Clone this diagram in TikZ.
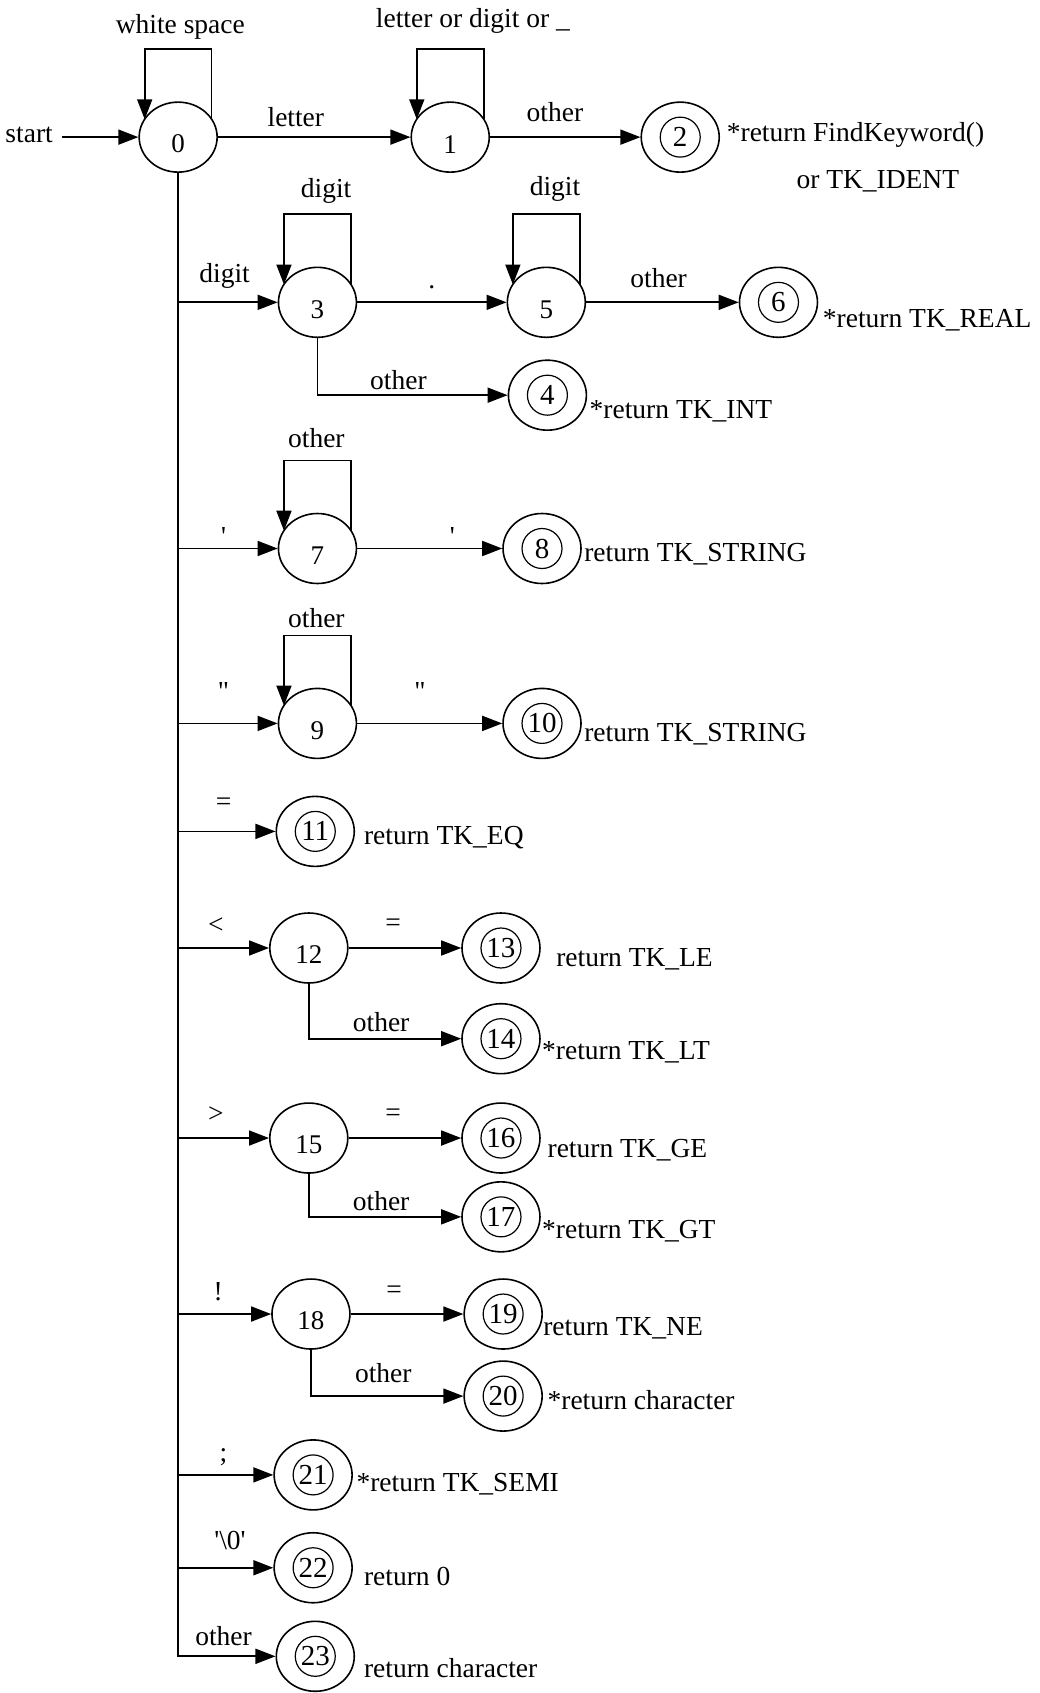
\documentclass[tikz,border=0pt]{standalone}
\usepackage{fontspec}
\setmainfont{Liberation Serif}
\usetikzlibrary{shapes.geometric,arrows.meta,calc}
\newcommand\lblfont{\fontsize{27.5}{32}\selectfont}
\newcommand\stnumfont{\fontsize{27}{30}\selectfont}
\newcommand\accnumfont{\fontsize{29}{30}\selectfont}
\begin{document}
\begin{tikzpicture}[x=1.08pt,y=-1.08pt,
  ln/.style={line width=1.7pt},
  arr/.style={ln,-{Triangle[length=20pt,width=15pt]}},
  st/.style={draw, ellipse, minimum width=78pt, minimum height=70pt, inner sep=0pt, line width=1.6pt},
  stn/.style={st, label={[font=\stnumfont, inner sep=0pt, yshift=-7pt]center:#1}},
  acc/.style={st, label={[draw, circle, minimum size=40pt, inner sep=0pt, line width=1.2pt, font=\accnumfont]center:#1}},
  lbl/.style={font=\lblfont, inner sep=0pt},
  rtn/.style={lbl, anchor=west}]
\useasboundingbox[fill=white] (0,0) rectangle (963,1568);

% states
\node[stn=0] (s0) at (165,127) {};
\node[stn=1] (s1) at (417,127) {};
\node[acc=2] (s2) at (630,127) {};
\node[stn=3] (s3) at (294,280) {};
\node[stn=5] (s5) at (506,280) {};
\node[acc=6] (s6) at (721,280) {};
\node[acc=4] (s4) at (507,366) {};
\node[stn=7] (s7) at (294,508) {};
\node[acc=8] (s8) at (502,508) {};
\node[stn=9] (s9) at (294,670) {};
\node[acc=10] (s10) at (502,670) {};
\node[acc=11] (s11) at (292,770) {};
\node[stn=12] (s12) at (286,878) {};
\node[acc=13] (s13) at (464,878) {};
\node[acc=14] (s14) at (464,962) {};
\node[stn=15] (s15) at (286,1054) {};
\node[acc=16] (s16) at (464,1054) {};
\node[acc=17] (s17) at (464,1127) {};
\node[stn=18] (s18) at (288,1217) {};
\node[acc=19] (s19) at (466,1217) {};
\node[acc=20] (s20) at (466,1293) {};
\node[acc=21] (s21) at (290,1366) {};
\node[acc=22] (s22) at (290,1452) {};
\node[acc=23] (s23) at (292,1534) {};

% start
\node[lbl] (startlbl) at (27,125) {start};
\draw[arr] ([xshift=9pt]startlbl.east |- s0) -- (s0);

% self loops
\foreach \s in {s0,s1,s3,s5,s7,s9}{
  \draw[arr] ([shift={(31,-16.5)}]\s.center) -- ++(0,-65) -- ++(-62,0) -- ([shift={(-31,-16.5)}]\s.center);
}

% transitions
\draw[arr] (s0) -- (s1);
\draw[arr] (s1) -- (s2);
\draw[arr] (s3) -- (s5);
\draw[arr] (s5) -- (s6);
\draw[arr] (s3.south) |- (s4);
\draw[arr] (s7) -- (s8);
\draw[arr] (s9) -- (s10);
\draw[arr] (s12) -- (s13);
\draw[arr] (s12.south) |- (s14);
\draw[arr] (s15) -- (s16);
\draw[arr] (s15.south) |- (s17);
\draw[arr] (s18) -- (s19);
\draw[arr] (s18.south) |- (s20);

% trunk and branches
\draw[arr] (s0.south) |- (s23);
\foreach \s in {s3,s7,s9,s11,s12,s15,s18,s21,s22}{
  \draw[arr] (s0.south |- \s) -- (\s);
}

% labels
\node[lbl] (lws) at (167,25) {white space};
\node[lbl] (llds) at (438,19) {letter or digit or \_};
\node[lbl] (lletter) at (274,108) {letter};
\node[lbl] (lo12) at (514,104) {other};
\node[rtn] (r2) at (673,125) {*return FindKeyword()};
\node[lbl] (r2b) at (813,168) {or TK\_IDENT};
\node[lbl] (ld3) at (302,177) {digit};
\node[lbl] (ld03) at (208,256) {digit};
\node[lbl] (ldot) at (400,266) {.};
\node[lbl] (ld5) at (514,175) {digit};
\node[lbl] (lo56) at (610,258) {other};
\node[rtn] (r6) at (762,297) {*return TK\_REAL};
\node[lbl] (lo34) at (369,352) {other};
\node[rtn] (r4) at (546,381) {*return TK\_INT};
\node[lbl] (lo7) at (293,406) {other};
\node[lbl] (lq07) at (207,497) {\textquotesingle};
\node[lbl] (lq78) at (419,497) {\textquotesingle};
\node[rtn] (r8) at (541,513) {return TK\_STRING};
\node[lbl] (lo9) at (293,572) {other};
\node[lbl] (lqq09) at (207,640) {\textquotedbl};
\node[lbl] (lqq910) at (389,640) {\textquotedbl};
\node[rtn] (r10) at (541,680) {return TK\_STRING};
\node[lbl] (leq011) at (207,745) {=};
\node[rtn] (r11) at (337,776) {return TK\_EQ};
\node[lbl] (llt) at (200,857) {<};
\node[lbl] (leq1213) at (364,857) {=};
\node[rtn] (r13) at (515,888) {return TK\_LE};
\node[lbl] (lo1214) at (353,947) {other};
\node[rtn] (r14) at (502,975) {*return TK\_LT};
\node[lbl] (lgt) at (200,1032) {>};
\node[lbl] (leq1516) at (364,1033) {=};
\node[rtn] (r16) at (507,1065) {return TK\_GE};
\node[lbl] (lo1517) at (353,1112) {other};
\node[rtn] (r17) at (502,1140) {*return TK\_GT};
\node[lbl] (lex) at (202,1196) {!};
\node[lbl] (leq1819) at (365,1197) {=};
\node[rtn] (r19) at (503,1230) {return TK\_NE};
\node[lbl] (lo1820) at (355,1272) {other};
\node[rtn] (r20) at (507,1297) {*return character};
\node[lbl] (lsemi) at (207,1350) {;};
\node[rtn] (r21) at (330,1375) {*return TK\_SEMI};
\node[lbl] (lnul) at (213,1427) {\textquotesingle\textbackslash 0\textquotesingle};
\node[rtn] (r22) at (337,1460) {return 0};
\node[lbl] (lo023) at (207,1515) {other};
\node[rtn] (r23) at (337,1545) {return character};
\end{tikzpicture}
\end{document}
